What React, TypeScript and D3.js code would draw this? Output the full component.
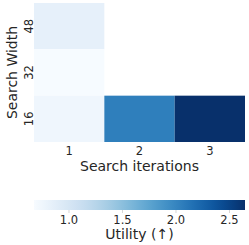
import React, { useRef, useEffect } from 'react';
import * as d3 from 'd3';

const iterations = ['1', '2', '3'];
const widths = ['48', '32', '16'];
// utility per width row, per iteration column (null = not run)
const utility48 = [0.84, null, null];
const utility32 = [0.68, null, null];
const utility16 = [0.75, 2.05, 2.645];
const colorTicks = [1.0, 1.5, 2.0, 2.5];
const vmin = 0.673;
const vmax = 2.645;

export default function App() {
    const svgRef = useRef(null);

    useEffect(() => {
        const width = 249;
        const height = 245;
        const left = 34, right = 245, top = 3, bottom = 142;
        const font = 'DejaVu Sans';
        const tickSize = '11.5px';
        const labelSize = '14px';

        const svg = d3.select(svgRef.current)
            .attr('width', width)
            .attr('height', height);
        svg.selectAll('*').remove();

        const x = d3.scaleBand().domain(iterations).range([left, right]);
        const y = d3.scaleBand().domain(widths).range([top, bottom]);
        const color = d3.scaleSequential(d3.interpolateBlues).domain([vmin, vmax]);

        const rows = [utility48, utility32, utility16];
        const cells = [];
        rows.forEach((r, i) => r.forEach((v, j) => {
            if (v !== null) cells.push({ w: widths[i], it: iterations[j], v });
        }));

        svg.selectAll('.cell')
            .data(cells)
            .enter()
            .append('rect')
            .attr('x', d => x(d.it))
            .attr('y', d => y(d.w))
            .attr('width', x.bandwidth())
            .attr('height', y.bandwidth())
            .attr('fill', d => color(d.v));

        // x tick labels
        svg.selectAll('.xt')
            .data(iterations)
            .enter()
            .append('text')
            .attr('x', d => x(d) + x.bandwidth() / 2)
            .attr('y', 155)
            .attr('text-anchor', 'middle')
            .style('font-family', font)
            .style('font-size', tickSize)
            .attr('fill', '#262626')
            .text(d => d);

        svg.append('text')
            .attr('x', (left + right) / 2)
            .attr('y', 171)
            .attr('text-anchor', 'middle')
            .style('font-family', font)
            .style('font-size', labelSize)
            .attr('fill', '#262626')
            .text('Search iterations');

        // y tick labels (rotated)
        svg.selectAll('.yt')
            .data(widths)
            .enter()
            .append('text')
            .attr('transform', d => `translate(33,${y(d) + y.bandwidth() / 2}) rotate(-90)`)
            .attr('text-anchor', 'middle')
            .style('font-family', font)
            .style('font-size', tickSize)
            .attr('fill', '#262626')
            .text(d => d);

        svg.append('text')
            .attr('transform', `translate(17,${(top + bottom) / 2}) rotate(-90)`)
            .attr('text-anchor', 'middle')
            .style('font-family', font)
            .style('font-size', labelSize)
            .attr('fill', '#262626')
            .text('Search Width');

        // colorbar
        const cx = d3.scaleLinear().domain([vmin, vmax]).range([left, right]);
        const grad = svg.append('defs').append('linearGradient')
            .attr('id', 'cbar');
        d3.range(0, 1.0001, 0.05).forEach(t => {
            grad.append('stop')
                .attr('offset', `${t * 100}%`)
                .attr('stop-color', d3.interpolateBlues(t));
        });
        svg.append('rect')
            .attr('x', left)
            .attr('y', 200)
            .attr('width', right - left)
            .attr('height', 10)
            .attr('fill', 'url(#cbar)');

        svg.selectAll('.ct')
            .data(colorTicks)
            .enter()
            .append('line')
            .attr('x1', d => cx(d))
            .attr('x2', d => cx(d))
            .attr('y1', 210)
            .attr('y2', 213)
            .attr('stroke', '#cccccc')
            .attr('stroke-width', 0.8);

        svg.selectAll('.cl')
            .data(colorTicks)
            .enter()
            .append('text')
            .attr('x', d => cx(d))
            .attr('y', 224)
            .attr('text-anchor', 'middle')
            .style('font-family', font)
            .style('font-size', tickSize)
            .attr('fill', '#262626')
            .text(d => d3.format('.1f')(d));

        svg.append('text')
            .attr('x', (left + right) / 2)
            .attr('y', 239)
            .attr('text-anchor', 'middle')
            .style('font-family', font)
            .style('font-size', labelSize)
            .attr('fill', '#262626')
            .text('Utility (↑)');
    }, []);

    return (
        <svg ref={svgRef} style={{ position: 'absolute', left: 0, top: 0 }}></svg>
    );
}
